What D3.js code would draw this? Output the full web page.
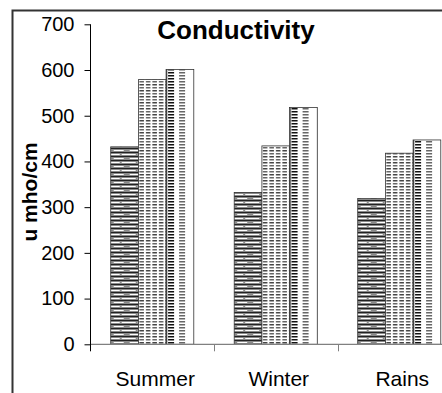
<!DOCTYPE html>
<html><head><meta charset="utf-8">
<script src="https://cdn.jsdelivr.net/npm/d3@7"></script>
<style>body{margin:0;background:#fff}svg{display:block}text{font-family:Arial,"Liberation Sans",sans-serif}</style>
</head><body><svg id="c" width="442" height="393"></svg>
<script>
const categories = ["Summer", "Winter", "Rains"];
const seriesNames = ["Series 1", "Series 2", "Series 3"];
const series1 = [432, 332, 319];
const series2 = [579, 434, 418];
const series3 = [601, 518, 447];
const yTicks = [0, 100, 200, 300, 400, 500, 600, 700];
const title = "Conductivity";
const yLabel = "u mho/cm";

const svg = d3.select("#c");
const defs = svg.append("defs");
const seriesVals = [series1, series2, series3];

// frame
svg.append("rect").attr("x", 12.5).attr("y", 10.5).attr("width", 460).attr("height", 420)
  .attr("fill", "none").attr("stroke", "#333").attr("stroke-width", 2);

const y = d3.scaleLinear().domain([0, 700]).range([344.3, 24.3]);
const x0 = d3.scaleBand().domain(categories).range([90.5, 90.5 + 3 * 123.5]).padding(0);
const x1 = d3.scaleBand().domain(seriesNames).range([0, x0.bandwidth()]).paddingInner(0).paddingOuter(0.73);

function makePattern(id, type, px) {
  if (type === 0) {
    const p = defs.append("pattern").attr("id", id).attr("patternUnits", "userSpaceOnUse")
      .attr("x", px).attr("y", 0).attr("width", 16).attr("height", 8);
    p.append("rect").attr("width", 16).attr("height", 8).attr("fill", "#8a8a8a");
    p.append("rect").attr("y", 0).attr("width", 16).attr("height", 1).attr("fill", "#222");
    p.append("rect").attr("x", 0).attr("y", 2).attr("width", 9).attr("height", 1).attr("fill", "#fff");
    p.append("rect").attr("x", 11).attr("y", 2).attr("width", 5).attr("height", 1).attr("fill", "#fff");
    p.append("rect").attr("y", 4).attr("width", 16).attr("height", 1).attr("fill", "#222");
    p.append("rect").attr("x", 3).attr("y", 6).attr("width", 10).attr("height", 1).attr("fill", "#fff");
  } else if (type === 1) {
    const p = defs.append("pattern").attr("id", id).attr("patternUnits", "userSpaceOnUse")
      .attr("x", px).attr("y", 0).attr("width", 6.5).attr("height", 6);
    p.append("rect").attr("width", 6.5).attr("height", 6).attr("fill", "#fff");
    p.append("rect").attr("x", 1).attr("y", 0).attr("width", 4.5).attr("height", 1.5).attr("fill", "#444");
    p.append("rect").attr("x", 1).attr("y", 3).attr("width", 4.5).attr("height", 1.5).attr("fill", "#666");
  } else {
    const p = defs.append("pattern").attr("id", id).attr("patternUnits", "userSpaceOnUse")
      .attr("x", px).attr("y", 0).attr("width", 28).attr("height", 3);
    p.append("rect").attr("width", 28).attr("height", 3).attr("fill", "#fff");
    p.append("rect").attr("x", 0).attr("y", 0).attr("width", 1.2).attr("height", 3).attr("fill", "#333");
    p.append("rect").attr("x", 2).attr("y", 0).attr("width", 6).attr("height", 1.5).attr("fill", "#111");
    p.append("rect").attr("x", 13).attr("y", 0).attr("width", 6).attr("height", 1.5).attr("fill", "#666");
  }
}

const bars = [];
categories.forEach((c, ci) => {
  seriesNames.forEach((s, si) => {
    const bx = x0(c) + x1(s);
    const id = "p" + ci + "_" + si;
    makePattern(id, si, bx);
    bars.push({c, s, si, v: seriesVals[si][ci], id, bx});
  });
});

svg.append("g").selectAll("rect").data(bars).join("rect")
  .attr("x", d => d.bx).attr("y", d => y(d.v))
  .attr("width", x1.bandwidth()).attr("height", d => y(0) - y(d.v))
  .attr("fill", d => "url(#" + d.id + ")")
  .attr("stroke", "#333").attr("stroke-width", 0.8);

// x axis
const xa = svg.append("g").attr("transform", `translate(0,${y(0)})`);
xa.append("line").attr("x1", 90.5).attr("x2", 470).attr("stroke", "#808080").attr("stroke-width", 1.2);
xa.selectAll("line.t").data(categories.slice(1)).join("line").attr("class", "t")
  .attr("x1", d => Math.round(x0(d)) + 0.5).attr("x2", d => Math.round(x0(d)) + 0.5)
  .attr("y1", 0).attr("y2", 7).attr("stroke", "#808080");
xa.selectAll("text").data(categories).join("text")
  .attr("x", d => x0(d) + x0.bandwidth() / 2 + 3).attr("y", 42)
  .attr("text-anchor", "middle").attr("font-size", 21).attr("fill", "#000").text(d => d);

// y axis
const ya = svg.append("g").attr("transform", "translate(90.5,0)")
  .call(d3.axisLeft(y).tickValues(yTicks).tickSize(6).tickPadding(10).tickFormat(d3.format("d")));
ya.select(".domain").attr("d", `M0,${y(700)}V${y(0) + 7}`).attr("stroke", "#000");
ya.selectAll(".tick line").attr("stroke", "#000");
ya.selectAll(".tick text").attr("font-size", 20).attr("fill", "#000")
  .attr("font-family", "Arial, 'Liberation Sans', sans-serif");

svg.append("text").attr("x", 236).attr("y", 39).attr("text-anchor", "middle")
  .attr("font-size", 26).attr("font-weight", "bold").text(title);

svg.append("text").attr("transform", "translate(37,192) rotate(-90)").attr("text-anchor", "middle")
  .attr("font-size", 21).attr("font-weight", "bold").text(yLabel);
</script></body></html>
